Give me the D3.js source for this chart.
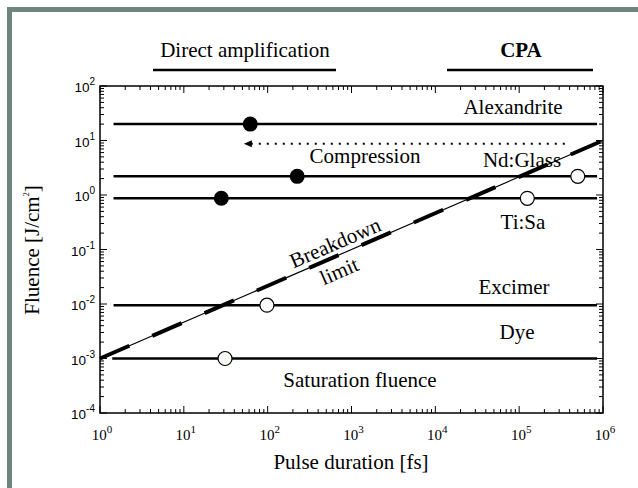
<!DOCTYPE html>
<html>
<head>
<meta charset="utf-8">
<script src="https://cdn.jsdelivr.net/npm/d3@7"></script>
<style>
  html, body { margin: 0; padding: 0; background: #fff; }
  svg { display: block; }
  .serif { font-family: "Liberation Serif", "Times New Roman", Times, "DejaVu Serif", serif; }
  .sans { font-family: "Liberation Sans", Arial, Helvetica, sans-serif; }
</style>
</head>
<body>
<svg id="chart" width="638" height="488"></svg>
<script>
// Laser gain media: saturation fluence levels (J/cm^2)
const media = ["Alexandrite", "Nd:Glass", "Ti:Sa", "Excimer", "Dye"];
const mediaFluence = [20, 2.2, 0.87, 0.0095, 0.001];
const lineStart = [1.45, 1.45, 1.45, 1.45, 1.4];   // fs
const lineEnd = [8.5e5, 8.5e5, 8.5e5, 8.5e5, 8.5e5]; // fs

// Operating points: filled = direct amplification, open = CPA
const filledPulse = [62, 225, 28];
const filledFluence = [20, 2.2, 0.87];
const openPulse = [5e5, 1.25e5, 98, 31];
const openFluence = [2.2, 0.87, 0.0095, 0.001];

// Breakdown limit F = 1e-3 * t^(2/3)
const breakdownPulse = [1, 1e6];
const breakdownFluence = [1e-3, 10];

// Compression arrow (from stretched pulse back to short pulse)
const arrowPulse = [3.5e5, 52];
const arrowFluence = [8.7, 8.7];

const xTickExp = [0, 1, 2, 3, 4, 5, 6];
const yTickExp = [2, 1, 0, -1, -2, -3, -4];

const svg = d3.select("#chart");

// Frame stripes on the left and top
svg.append("rect").attr("x", 7).attr("y", 7).attr("width", 5).attr("height", 481).attr("fill", "#6e857d");
svg.append("rect").attr("x", 7).attr("y", 7).attr("width", 631).attr("height", 5).attr("fill", "#6e857d");

const pL = 100, pR = 603, pT = 86, pB = 413;
const x = d3.scaleLog().domain([1, 1e6]).range([pL, pR]);
const y = d3.scaleLog().domain([1e-4, 1e2]).range([pB, pT]);

// Minor tick values
const minorX = [], minorY = [];
for (let e = 0; e < 6; e++) for (let m = 2; m <= 9; m++) minorX.push(m * Math.pow(10, e));
for (let e = -4; e < 2; e++) for (let m = 2; m <= 9; m++) minorY.push(m * Math.pow(10, e));

const g = svg.append("g");

// Ticks (inward on all four sides)
const tickG = g.append("g").attr("stroke", "#000").attr("stroke-width", 1);
xTickExp.forEach(e => {
  const xv = x(Math.pow(10, e));
  tickG.append("line").attr("x1", xv).attr("x2", xv).attr("y1", pB).attr("y2", pB - 7);
  tickG.append("line").attr("x1", xv).attr("x2", xv).attr("y1", pT).attr("y2", pT + 7);
});
minorX.forEach(v => {
  const xv = x(v);
  tickG.append("line").attr("x1", xv).attr("x2", xv).attr("y1", pB).attr("y2", pB - 4);
  tickG.append("line").attr("x1", xv).attr("x2", xv).attr("y1", pT).attr("y2", pT + 4);
});
yTickExp.forEach(e => {
  const yv = y(Math.pow(10, e));
  tickG.append("line").attr("x1", pL).attr("x2", pL + 7).attr("y1", yv).attr("y2", yv);
  tickG.append("line").attr("x1", pR).attr("x2", pR - 7).attr("y1", yv).attr("y2", yv);
});
minorY.forEach(v => {
  const yv = y(v);
  tickG.append("line").attr("x1", pL).attr("x2", pL + 4).attr("y1", yv).attr("y2", yv);
  tickG.append("line").attr("x1", pR).attr("x2", pR - 4).attr("y1", yv).attr("y2", yv);
});

// Plot frame
g.append("rect").attr("x", pL).attr("y", pT).attr("width", pR - pL).attr("height", pB - pT)
  .attr("fill", "none").attr("stroke", "#000").attr("stroke-width", 1.5);

// X tick labels (serif, 10^n)
xTickExp.forEach(e => {
  const t = g.append("text").attr("class", "serif").attr("x", x(Math.pow(10, e)) + 2).attr("y", 440)
    .attr("text-anchor", "middle").style("font-size", "15px");
  t.append("tspan").text("10");
  t.append("tspan").attr("dy", -7).style("font-size", "11px").text(e);
});

// Y tick labels (sans, 10^n)
yTickExp.forEach(e => {
  const t = g.append("text").attr("class", "sans").attr("x", 95).attr("y", y(Math.pow(10, e)) + 6)
    .attr("text-anchor", "end").style("font-size", "13.5px");
  t.append("tspan").text("10");
  t.append("tspan").attr("dy", -7).style("font-size", "10px").text(e);
});

// Axis titles
g.append("text").attr("class", "serif").attr("x", 351).attr("y", 469).attr("text-anchor", "middle")
  .style("font-size", "21px").text("Pulse duration [fs]");
const yt = g.append("text").attr("class", "serif").attr("transform", "translate(39,250) rotate(-90)")
  .attr("text-anchor", "middle").style("font-size", "21px");
yt.append("tspan").text("Fluence [J/cm");
yt.append("tspan").attr("dy", -10).style("font-size", "8px").text("2");
yt.append("tspan").attr("dy", 10).text("]");

// Saturation fluence lines
media.forEach((m, i) => {
  g.append("line")
    .attr("x1", x(lineStart[i])).attr("x2", x(lineEnd[i]))
    .attr("y1", y(mediaFluence[i])).attr("y2", y(mediaFluence[i]))
    .attr("stroke", "#000").attr("stroke-width", 2.5);
});

// Breakdown limit: thin line with heavy long dashes on top
const bx1 = x(breakdownPulse[0]), by1 = y(breakdownFluence[0]);
const bx2 = x(breakdownPulse[1]), by2 = y(breakdownFluence[1]);
g.append("line").attr("x1", bx1).attr("y1", by1).attr("x2", bx2).attr("y2", by2)
  .attr("stroke", "#000").attr("stroke-width", 1.2);
g.append("line").attr("x1", bx1).attr("y1", by1).attr("x2", bx2).attr("y2", by2)
  .attr("stroke", "#000").attr("stroke-width", 4).attr("stroke-dasharray", "32,25");

// Compression arrow (dotted)
const ax1 = x(arrowPulse[0]), ax2 = x(arrowPulse[1]), ay = y(arrowFluence[0]);
g.append("line").attr("x1", ax1).attr("x2", ax2 + 6).attr("y1", ay).attr("y2", ay)
  .attr("stroke", "#000").attr("stroke-width", 2).attr("stroke-dasharray", "2,6");
g.append("path").attr("d", `M${ax2},${ay} L${ax2 + 8},${ay - 3.5} L${ax2 + 8},${ay + 3.5} Z`).attr("fill", "#000");

// Points
filledPulse.forEach((p, i) => {
  g.append("circle").attr("cx", x(p)).attr("cy", y(filledFluence[i])).attr("r", 7.5).attr("fill", "#000");
});
openPulse.forEach((p, i) => {
  g.append("circle").attr("cx", x(p)).attr("cy", y(openFluence[i])).attr("r", 7)
    .attr("fill", "#f7faf7").attr("stroke", "#000").attr("stroke-width", 1.2);
});

// Labels
const label = (txt, cx, by, opts = {}) => g.append("text").attr("class", "serif").attr("x", cx).attr("y", by)
  .attr("text-anchor", "middle").style("font-size", (opts.size || 21) + "px")
  .style("font-weight", opts.weight || "normal").text(txt);

label("Alexandrite", 513, 114);
label("Compression", 365, 163);
label("Nd:Glass", 522, 167);
label("Ti:Sa", 523, 229);
label("Excimer", 514, 294);
label("Dye", 517, 339);
label("Saturation fluence", 360, 387);

// Breakdown / limit labels along the line
const angle = Math.atan2(by2 - by1, bx2 - bx1) * 180 / Math.PI;
const lineY = px => by1 + (by2 - by1) * (px - bx1) / (bx2 - bx1);
g.append("text").attr("class", "serif").attr("transform", `translate(338,${lineY(338) - 6}) rotate(${angle})`)
  .attr("text-anchor", "middle").style("font-size", "21px").text("Breakdown");
g.append("text").attr("class", "serif").attr("transform", `translate(342,${lineY(342) + 24}) rotate(${angle})`)
  .attr("text-anchor", "middle").style("font-size", "21px").text("limit");

// Regime headers
label("Direct amplification", 245, 57);
g.append("line").attr("x1", 153).attr("x2", 336).attr("y1", 70).attr("y2", 70).attr("stroke", "#000").attr("stroke-width", 2.5);
label("CPA", 521, 57, { weight: "bold" });
g.append("line").attr("x1", 447).attr("x2", 593).attr("y1", 70).attr("y2", 70).attr("stroke", "#000").attr("stroke-width", 2.5);
</script>
</body>
</html>
